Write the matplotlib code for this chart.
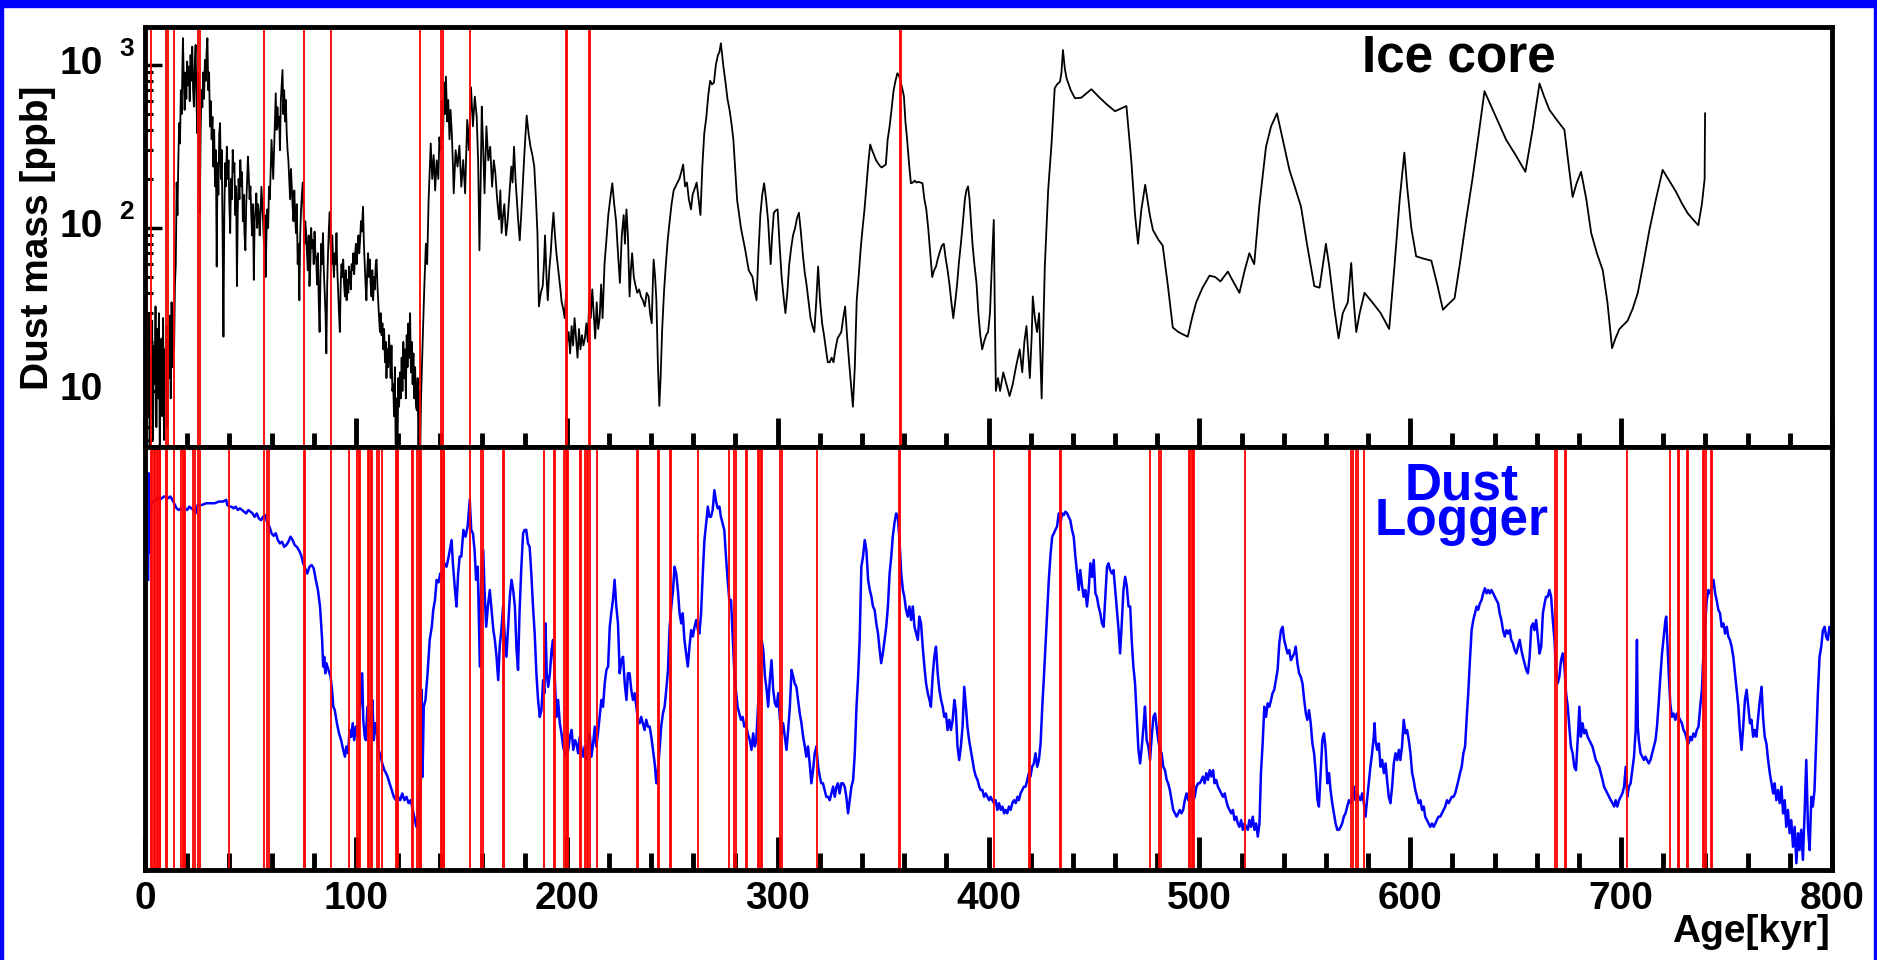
import numpy as np
import matplotlib
matplotlib.use('Agg')
import matplotlib.pyplot as plt
import matplotlib.transforms as mtransforms
from matplotlib.ticker import MultipleLocator, LogLocator, NullFormatter, FixedLocator
from matplotlib.patches import Rectangle

plt.rcParams['font.family'] = ['Liberation Sans', 'DejaVu Sans']

# ice core dust mass (age kyr, ppb)
ice_core_points = [
    (0.2, 9), (0.6, 5), (1.0, 22), (1.4, 7), (1.8, 30), (2.2, 4), (2.6, 16), (3.0, 8),
    (3.4, 27), (3.8, 5), (4.2, 19), (4.6, 11), (5.0, 33), (5.4, 6), (5.8, 24), (6.2, 9),
    (6.6, 30), (7.0, 4), (7.4, 14), (7.8, 21), (8.2, 7), (8.6, 28), (9.0, 5), (9.4, 18),
    (9.8, 10), (10.2, 25), (10.6, 6), (11.0, 20), (11.4, 12), (11.8, 29), (12.2, 9),
    (12.6, 35), (13.0, 14), (13.4, 30), (13.8, 18), (14.2, 45), (14.6, 60), (15.0, 190),
    (15.4, 120), (15.8, 260), (16.2, 440), (16.6, 330), (17.0, 700), (17.4, 500),
    (17.8, 1100), (18.0, 1460), (18.4, 800), (18.8, 530), (19.2, 900), (19.6, 620),
    (20.0, 1050), (20.4, 750), (20.8, 977), (21.2, 600), (21.6, 1150), (22.0, 800),
    (22.4, 1295), (22.8, 700), (23.2, 555), (23.6, 1000), (24.0, 1327), (24.4, 600),
    (24.8, 381), (25.2, 900), (25.6, 700), (26.0, 123), (26.4, 400), (26.8, 703),
    (27.2, 550), (27.6, 900), (28.0, 620), (28.4, 1073), (28.8, 800), (29.2, 1200),
    (29.6, 1460), (30.0, 700), (30.4, 900), (30.8, 419), (31.2, 600), (31.6, 350),
    (32.0, 480), (32.4, 238), (32.8, 400), (33.2, 180), (33.6, 300), (34.0, 58),
    (34.4, 250), (34.8, 160), (35.2, 380), (35.6, 440), (36.0, 200), (36.4, 300),
    (36.8, 90), (37.2, 21.5), (37.6, 120), (38.0, 250), (38.4, 180), (38.8, 315),
    (39.2, 200), (39.6, 260), (40.0, 140), (40.4, 93), (40.8, 200), (41.2, 150),
    (41.6, 301), (42.0, 220), (42.4, 250), (42.8, 120), (43.2, 180), (43.6, 44),
    (44.0, 130), (44.4, 200), (44.8, 150), (45.2, 261), (45.6, 180), (46.0, 220),
    (46.4, 110), (46.8, 160), (47.2, 90), (47.6, 73), (48.0, 140), (48.4, 190),
    (48.8, 274), (49.2, 210), (49.6, 150), (50.0, 180), (50.4, 120), (50.8, 90),
    (51.2, 140), (51.6, 48), (52.0, 110), (52.4, 130), (52.8, 163), (53.2, 100),
    (53.6, 140), (54.0, 120), (54.4, 90), (54.8, 130), (55.2, 179), (55.6, 140),
    (56.0, 110), (56.4, 80), (56.8, 120), (57.2, 50), (57.6, 90), (58.0, 130),
    (58.4, 100), (58.8, 179), (59.2, 150), (59.6, 230), (60.0, 347), (60.4, 260),
    (60.8, 200), (61.2, 300), (61.6, 450), (62.0, 670), (62.4, 400), (62.8, 550),
    (63.2, 420), (63.6, 482), (64.0, 300), (64.4, 600), (64.8, 750), (65.2, 931),
    (65.6, 500), (66.0, 700), (66.4, 450), (66.8, 610), (67.2, 380), (67.6, 300),
    (68.0, 260), (68.4, 200), (68.8, 150), (69.2, 230), (69.6, 180), (70.0, 135),
    (70.4, 110), (70.8, 170), (71.2, 120), (71.6, 93), (72.0, 140), (72.4, 60),
    (72.8, 80), (73.2, 36), (73.6, 90), (74.0, 130), (74.4, 160), (74.8, 190),
    (75.2, 120), (75.6, 80), (76.0, 110), (76.4, 93), (76.8, 70), (77.2, 55),
    (77.6, 90), (78.0, 44), (78.4, 60), (78.8, 100), (79.2, 75), (79.6, 84),
    (80.0, 60), (80.4, 95), (80.8, 70), (81.2, 64), (81.6, 45), (82.0, 70),
    (82.4, 35), (82.8, 23), (83.2, 50), (83.6, 80), (84.0, 60), (84.4, 93),
    (84.8, 55), (85.2, 40), (85.6, 30), (86.0, 17), (86.4, 45), (86.8, 70),
    (87.2, 100), (87.6, 125), (88.0, 80), (88.4, 60), (88.8, 90), (89.2, 64),
    (89.6, 50), (90.0, 70), (90.4, 60), (90.8, 93), (91.2, 55), (91.6, 40),
    (92.0, 30), (92.4, 23), (92.8, 45), (93.2, 60), (93.6, 50), (94.0, 64),
    (94.4, 45), (94.8, 38), (95.2, 55), (95.6, 36), (96.0, 48), (96.4, 40),
    (96.8, 58), (97.2, 50), (97.6, 42), (98.0, 60), (98.4, 55), (98.8, 70),
    (99.2, 52), (99.6, 67), (100.0, 80), (100.4, 60), (100.8, 75), (101.2, 90),
    (101.6, 70), (102.0, 84), (102.4, 110), (102.8, 95), (103.2, 120), (103.4, 135),
    (103.8, 80), (104.2, 60), (104.6, 45), (105.0, 36), (105.4, 55), (105.8, 70),
    (106.2, 50), (106.6, 64), (107.0, 45), (107.4, 38), (107.8, 55), (108.2, 36),
    (108.6, 50), (109.0, 42), (109.4, 60), (109.8, 64), (110.2, 45), (110.6, 35),
    (111.0, 28), (111.4, 23), (111.8, 30), (112.2, 22), (112.6, 26), (113.0, 18),
    (113.4, 24), (113.8, 15), (114.2, 20), (114.5, 12), (114.9, 18), (115.3, 14),
    (115.7, 22), (116.1, 17), (116.5, 12), (116.9, 19), (117.3, 10), (117.7, 11),
    (118.1, 7), (118.5, 14), (118.9, 4), (119.3, 9), (119.7, 3.5), (120.1, 12),
    (120.5, 8), (120.9, 13), (121.3, 9), (121.7, 16), (122.1, 10), (122.5, 20),
    (122.9, 12), (123.3, 18), (123.7, 9), (124.1, 22), (124.5, 14), (124.9, 26),
    (125.3, 16), (125.7, 30), (126.1, 13), (126.5, 20), (126.9, 11), (127.3, 17),
    (127.7, 9), (128.1, 14), (128.5, 8), (128.9, 7.6), (129.3, 12), (129.7, 4),
    (130.1, 10), (130.5, 4), (130.9, 9), (131.3, 14), (131.8, 23), (132.5, 45),
    (133.2, 80), (133.8, 60), (134.5, 150), (135.0, 220), (135.5, 330), (136.2, 200),
    (136.9, 280), (137.6, 170), (138.3, 260), (139.1, 200), (139.6, 360), (140.2, 300),
    (140.7, 600), (141.3, 350), (141.9, 780), (142.3, 500), (142.7, 850), (143.3, 450),
    (143.8, 610), (144.4, 350), (144.9, 530), (145.5, 380), (146.0, 250), (146.4, 163),
    (147.3, 300), (148.2, 238), (149.1, 320), (150.0, 179), (150.9, 261), (151.8, 163),
    (152.8, 460), (153.6, 300), (154.6, 730), (155.5, 420), (156.4, 640), (157.3, 480),
    (158.0, 250), (158.6, 73), (159.2, 200), (159.7, 555), (160.3, 330), (161.0, 163),
    (161.9, 420), (162.8, 260), (163.7, 315), (164.6, 179), (165.4, 260), (166.1, 220),
    (167.0, 150), (167.9, 113), (168.5, 170), (169.1, 93), (169.8, 120), (170.4, 140),
    (171.2, 90), (171.9, 108), (172.8, 160), (173.7, 238), (174.3, 190), (175.0, 315),
    (175.7, 200), (176.4, 145), (177.0, 110), (177.7, 84), (178.4, 120), (179.1, 179),
    (180.0, 300), (181.0, 490), (181.9, 380), (182.8, 315), (183.7, 280), (184.6, 238),
    (185.4, 150), (186.1, 93), (186.8, 33), (187.7, 40), (188.6, 44), (189.2, 60),
    (189.7, 90), (190.4, 50), (191.0, 36), (191.7, 55), (192.4, 70), (193.0, 95),
    (193.7, 124), (194.4, 90), (195.1, 70), (196.0, 55), (197.0, 42), (197.6, 35),
    (198.3, 32), (199.0, 28), (199.7, 40), (200.2, 20), (200.9, 23), (201.6, 17),
    (202.3, 25), (203.0, 19), (203.7, 28), (204.4, 21), (205.1, 16), (205.8, 24),
    (206.5, 18), (207.2, 22), (207.9, 19), (208.6, 21), (209.3, 26), (210.0, 20),
    (210.7, 38), (211.4, 28), (212.1, 42), (212.8, 30), (213.5, 21), (214.2, 35),
    (214.9, 24), (215.6, 28), (216.3, 45), (217.0, 28), (217.9, 60), (218.8, 84),
    (219.7, 120), (220.6, 150), (221.6, 188), (222.5, 140), (223.4, 110), (224.3, 70),
    (225.2, 46), (226.1, 90), (227.0, 120), (227.6, 80), (228.3, 130), (229.0, 90),
    (229.8, 38), (230.4, 55), (231.0, 70), (231.8, 50), (232.5, 45), (233.4, 40),
    (234.3, 42), (235.2, 38), (236.1, 36), (237.0, 33), (237.9, 40), (238.8, 38),
    (239.5, 30), (240.3, 26), (240.8, 45), (241.2, 64), (241.9, 50), (242.5, 36),
    (243.2, 15), (243.9, 8.1), (244.5, 12), (245.2, 23), (246.1, 40), (247.0, 60),
    (247.9, 85), (248.8, 110), (249.7, 140), (250.7, 170), (251.6, 180), (252.5, 190),
    (253.4, 200), (254.3, 220), (255.2, 245), (256.1, 180), (257.0, 190), (257.9, 150),
    (258.9, 130), (259.7, 160), (260.7, 175), (261.6, 190), (262.5, 150), (263.4, 120),
    (264.3, 238), (265.2, 380), (266.2, 480), (267.1, 650), (268.0, 800), (268.9, 760),
    (269.8, 780), (270.7, 1000), (271.7, 1150), (272.4, 1200), (273.1, 1360),
    (274.2, 1000), (275.3, 780), (276.2, 620), (277.2, 530), (278.1, 440), (279.0, 350),
    (279.9, 230), (280.8, 148), (282.6, 100), (284.5, 75), (286.3, 55), (288.1, 50),
    (289.0, 42), (290.0, 36), (290.9, 70), (291.8, 120), (292.7, 160), (293.6, 188),
    (294.5, 150), (295.5, 110), (296.1, 80), (296.7, 60), (297.4, 90), (298.2, 124),
    (299.1, 128), (300.0, 130), (300.9, 80), (301.9, 50), (302.8, 38), (303.7, 30),
    (304.6, 40), (305.5, 60), (306.4, 75), (307.3, 90), (308.3, 100), (309.2, 115),
    (310.1, 124), (311.0, 95), (311.9, 70), (312.8, 54), (313.7, 45), (314.7, 35),
    (315.6, 28), (316.5, 25), (317.4, 23), (318.3, 35), (319.2, 58), (320.1, 36),
    (321.1, 26), (322.0, 22), (322.9, 18), (323.8, 15), (324.7, 15), (325.6, 16),
    (326.5, 15), (327.4, 18), (328.4, 21), (329.3, 22), (330.2, 23), (331.1, 28),
    (332.0, 33), (333.0, 21), (333.9, 15), (334.8, 11), (335.7, 8), (336.6, 14),
    (337.5, 36), (338.4, 50), (339.4, 75), (340.3, 100), (341.2, 130), (342.1, 180),
    (343.0, 250), (343.9, 325), (344.8, 300), (345.7, 280), (346.7, 260), (347.6, 250),
    (348.5, 240), (349.4, 235), (350.3, 240), (351.3, 245), (352.2, 350), (353.1, 420),
    (354.0, 530), (355.0, 700), (355.9, 800), (356.8, 890), (357.7, 850), (358.6, 760),
    (359.3, 700), (359.9, 640), (360.6, 450), (361.4, 350), (362.3, 250), (363.2, 188),
    (364.1, 190), (365.0, 195), (365.9, 190), (366.8, 192), (367.8, 190), (368.7, 188),
    (369.6, 150), (370.5, 130), (371.4, 100), (372.4, 70), (373.3, 50), (374.2, 55),
    (375.1, 58), (376.0, 65), (377.0, 72), (377.9, 78), (378.8, 80), (379.7, 65),
    (380.6, 55), (381.5, 45), (382.4, 35), (383.3, 28), (384.2, 35), (385.1, 45),
    (386.0, 62), (386.9, 80), (387.9, 110), (388.8, 150), (389.5, 170), (390.3, 180),
    (391.0, 150), (391.7, 110), (392.4, 80), (393.3, 60), (394.3, 46), (395.2, 30),
    (396.1, 22), (397.0, 18), (397.9, 20), (398.9, 22), (399.8, 23), (400.7, 30),
    (401.6, 60), (402.5, 112), (403.0, 30), (403.5, 10), (404.5, 12), (405.5, 10),
    (407.0, 13), (408.5, 11), (410.0, 9.3), (411.5, 11), (413.0, 14), (414.8, 18),
    (416.0, 13), (417.0, 20), (418.0, 25), (419.6, 12), (420.5, 22), (421.0, 38),
    (422.0, 28), (423.0, 23), (424.0, 30), (425.2, 9), (426.7, 58), (428.3, 171),
    (429.9, 330), (431.4, 720), (432.5, 760), (433.9, 790), (434.6, 900), (435.3, 1235),
    (436.2, 950), (437.0, 830), (439.0, 700), (441.0, 625), (444.0, 630), (448.8, 710),
    (452.7, 630), (456.3, 570), (460.0, 520), (465.4, 560), (467.7, 260), (469.5, 120),
    (470.9, 80), (472.5, 130), (474.3, 184), (476.5, 120), (478.0, 97), (480.5, 85),
    (482.6, 78), (485.0, 45), (487.4, 24.5), (490.0, 23), (494.5, 21.5), (496.5, 28),
    (498.5, 35), (501.5, 43), (504.8, 51), (507.5, 50), (510.0, 47), (513.5, 54),
    (516.0, 47), (519.0, 40), (521.5, 55), (523.7, 70), (525.0, 64), (526.0, 60),
    (528.5, 140), (531.6, 315), (534.0, 420), (536.8, 505), (539.5, 350), (542.7, 227),
    (545.5, 175), (548.2, 135), (551.0, 80), (554.5, 44), (557.0, 43), (560.0, 80),
    (561.6, 58), (564.0, 32), (566.0, 21), (568.0, 30), (570.4, 35), (572.0, 61),
    (573.0, 38), (574.4, 23), (576.0, 30), (578.3, 40), (582.0, 35), (586.0, 30),
    (590.0, 24), (592.5, 58), (595.0, 150), (597.2, 290), (598.5, 180), (600.5, 100),
    (602.8, 67), (606.0, 65), (610.0, 63), (612.8, 45), (615.5, 31.5), (618.0, 34),
    (621.0, 37), (623.5, 60), (626.5, 112), (629.5, 200), (632.5, 380), (635.2, 690),
    (640.0, 500), (645.5, 347), (650.0, 280), (654.6, 221), (658.0, 400), (661.3, 770),
    (663.5, 640), (666.0, 530), (669.5, 460), (673.1, 400), (675.0, 250), (677.0, 155),
    (679.0, 190), (681.0, 221), (683.5, 150), (685.8, 93), (688.5, 70), (691.3, 55),
    (693.5, 35), (695.7, 18.3), (697.3, 21), (699.2, 24), (703.1, 27), (705.5, 32),
    (707.9, 40), (710.5, 60), (713.4, 97), (716.5, 150), (719.7, 227), (722.8, 195),
    (726.0, 167), (729.0, 140), (731.6, 123), (734.0, 113), (736.6, 104), (738.3, 140),
    (739.0, 170), (739.6, 200), (739.8, 505),
]

# dust logger signal (age kyr, arbitrary units 0-100)
logger_points = [
    (1.5, 68.6), (1.7, 93.8), (1.9, 75.0), (2.1, 84.0), (2.5, 85.5), (3, 86.7), (4, 87.1),
    (5, 87.5), (6, 87.9), (7, 87.5), (8, 87.9), (9, 88.3), (10, 88.2), (11, 87.9),
    (12, 88.3), (13, 87.5), (14, 86.5), (15, 85.5), (16, 85.1), (17, 85.5), (18, 85.1),
    (19, 85.5), (20, 85.1), (21, 85.9), (22, 85.5), (23, 85.1), (24, 84.3), (24.5, 85.5),
    (25, 86.3), (27, 86.3), (29, 86.7), (31, 86.7), (33, 86.7), (35, 87.1), (37, 87.1),
    (38.5, 87.5), (39, 86.3), (40, 85.9), (41, 85.9), (42, 85.5), (43, 85.9), (44, 85.1),
    (45, 85.5), (46, 85.1), (47, 84.7), (48, 84.3), (49, 85.1), (50, 84.7), (51, 84.3),
    (52, 83.5), (53, 84.3), (54, 83.1), (55, 82.7), (56, 83.5), (57, 83.9), (58, 82.0),
    (59, 81.2), (60, 79.6), (61, 79.0), (62, 79.6), (63, 78.0), (64, 77.2), (65, 77.6),
    (66, 76.4), (67, 76.8), (68, 77.6), (69, 78.8), (70, 78.0), (71, 76.8), (72, 76.4),
    (73, 75.6), (74, 74.5), (75, 72.5), (76, 71.3), (77, 70.1), (78, 71.7), (79, 72.1),
    (80, 71.3), (81, 68.6), (82, 66.2), (83, 62.3), (84, 54.4), (84.5, 48.1), (85, 50.4),
    (85.5, 46.5), (86, 48.9), (87, 47.3), (88, 45.7), (88.7, 42.6), (89.3, 38.6),
    (90, 37.8), (91, 34.7), (92, 32.3), (93, 30.7), (94, 28.4), (94.8, 26.8), (95.5, 29.2),
    (96.3, 27.6), (97, 33.1), (97.8, 31.5), (98.5, 34.7), (99.2, 30.7), (100, 33.9),
    (101, 31.5), (102, 38.6), (103, 46.5), (103.5, 35.5), (104.2, 31.5), (104.7, 30.7),
    (105.5, 38.6), (106.3, 33.9), (107.2, 36.2), (107.8, 40.2), (108.5, 30.7),
    (109.2, 34.7), (110, 32.3), (110.8, 28.4), (111.8, 26.8), (112.5, 25.2), (113.5, 23.6),
    (114.3, 22.9), (115, 22.1), (116, 20.5), (117, 18.9), (118, 17.3), (119, 16.5),
    (120, 17.3), (121, 16.5), (122, 18.1), (123, 16.5), (124, 17.3), (125, 15.8),
    (126, 16.5), (127, 14.2), (128, 11.8), (128.7, 10.2), (129.3, 12.6), (130, 18.1),
    (130.7, 16.5), (131.2, 42.6), (131.6, 22.0), (132.2, 38.6), (133, 40.2), (134, 46.5),
    (135, 54.4), (136, 57.5), (136.7, 61.5), (137.5, 63.8), (138.3, 68.6), (139.2, 68.0),
    (140, 70.1), (141, 69.3), (142, 72.5), (143, 71.7), (144, 74.1), (145.4, 78.0),
    (146, 72.5), (147, 66.2), (147.7, 62.3), (148.5, 70.1), (149.2, 74.1), (150, 74.1),
    (151, 80.4), (152, 78.8), (153, 81.2), (154, 87.5), (154.7, 80.4), (155.5, 79.6),
    (156.3, 75.6), (157, 68.6), (157.8, 71.7), (158.8, 48.1), (159.5, 70.1), (160.4, 75.6),
    (161, 66.2), (161.8, 57.5), (162.6, 62.3), (163.5, 66.2), (164.5, 60.7), (165.2, 56.7),
    (165.9, 54.4), (166.7, 50.4), (167.5, 44.9), (168.2, 52.8), (169, 56.7), (169.8, 62.3),
    (170.6, 55.2), (171.4, 50.4), (172.2, 57.5), (173, 64.6), (173.8, 68.6), (174.6, 66.2),
    (175.4, 62.3), (176.2, 52.0), (176.9, 47.3), (177.6, 60.7), (178.4, 70.9), (179.3, 79.6),
    (180, 80.4), (180.8, 80.4), (181.6, 77.2), (182.4, 76.4), (183.2, 70.1), (184, 62.3),
    (184.8, 55.9), (185.6, 46.5), (186.4, 40.2), (187.2, 36.2), (188, 37.8), (188.8, 44.9),
    (189.4, 41.8), (189.9, 58.3), (190.5, 46.5), (191.2, 43.3), (192, 46.5), (192.8, 52.0),
    (193.5, 54.4), (194.3, 45.7), (195.1, 36.2), (195.9, 40.2), (196.7, 34.7), (197.5, 32.3),
    (198.3, 29.2), (199.1, 27.6), (199.9, 26.8), (200.7, 28.4), (201.5, 31.5), (202.3, 33.1),
    (203.1, 28.4), (203.9, 30.7), (204.6, 29.9), (205.4, 27.6), (206.2, 31.5), (207, 28.4),
    (207.8, 26.8), (208.5, 29.2), (209.3, 26.0), (210.1, 30.7), (210.9, 32.3), (211.7, 26.8),
    (212.5, 29.9), (213.3, 33.9), (214, 29.2), (214.8, 32.3), (215.6, 36.2), (216.4, 40.2),
    (217.2, 38.6), (218, 44.1), (218.8, 47.3), (219.6, 48.1), (220.4, 57.5), (221.1, 60.7),
    (221.9, 63.8), (222.7, 68.6), (223.5, 62.3), (224.3, 58.3), (225.1, 46.5), (225.9, 49.6),
    (226.7, 50.4), (227.5, 44.1), (228.3, 40.2), (229, 46.5), (229.8, 46.5), (230.6, 42.6),
    (231.4, 40.2), (232.2, 41.8), (233, 38.6), (233.8, 35.5), (234.6, 34.7), (235.3, 36.2),
    (236.1, 34.7), (236.9, 33.1), (237.7, 35.5), (238.5, 33.9), (239.3, 33.9), (240.1, 31.5),
    (240.9, 28.4), (241.7, 25.2), (242.5, 20.5), (243.2, 23.6), (244, 28.4), (244.8, 33.9),
    (245.6, 37.0), (246.4, 38.6), (247.2, 42.6), (248, 47.3), (248.8, 57.5), (249.6, 62.3),
    (250.4, 66.2), (251.1, 71.7), (251.9, 70.1), (252.7, 66.2), (253.5, 60.7), (254.3, 58.3),
    (255, 60.7), (255.8, 54.4), (256.6, 51.2), (257.4, 48.1), (258.2, 52.8), (259, 56.7),
    (259.8, 55.2), (260.6, 57.5), (261.4, 59.1), (262.2, 56.7), (262.9, 55.9), (263.7, 60.7),
    (264.5, 70.1), (265.3, 78.0), (266.1, 82.0), (266.9, 85.9), (267.6, 83.5), (268.4, 83.5),
    (269.2, 85.1), (270, 89.8), (270.8, 87.1), (271.6, 85.5), (272.4, 85.9), (273.1, 83.5),
    (273.9, 82.0), (274.7, 80.4), (275.5, 74.1), (276.3, 68.6), (277.1, 63.8), (277.9, 63.8),
    (278.7, 55.2), (279.5, 46.5), (280.2, 42.6), (281, 38.6), (281.8, 37.0), (282.6, 35.5),
    (283.4, 36.2), (284.2, 33.9), (285, 34.7), (285.8, 32.3), (286.8, 30.7), (287.6, 28.4),
    (288.4, 32.3), (289.2, 29.2), (289.9, 30.7), (290.7, 38.6), (291.6, 44.9), (292.4, 54.4),
    (293.2, 52.0), (294, 45.7), (294.8, 42.6), (295.5, 38.6), (296.3, 44.9), (297.1, 49.6),
    (297.9, 42.6), (298.7, 39.4), (299.5, 38.6), (300.3, 41.8), (301, 36.2), (301.8, 32.3),
    (302.6, 34.7), (303.4, 31.5), (304.2, 28.4), (305, 33.1), (305.8, 38.6), (306.6, 47.3),
    (307.4, 45.7), (308.1, 44.1), (308.9, 43.3), (309.7, 40.2), (310.5, 37.0), (311.3, 34.7),
    (312.1, 31.5), (312.9, 29.2), (313.6, 26.8), (314.4, 29.2), (315.2, 25.2), (316, 20.5),
    (316.8, 23.6), (317.6, 27.6), (318.4, 29.2), (319.2, 24.4), (320, 22.1), (320.7, 20.5),
    (321.5, 20.5), (322.3, 18.9), (323.1, 17.3), (323.9, 17.3), (324.7, 16.5), (325.5, 18.1),
    (326.3, 19.7), (327.1, 17.3), (327.9, 19.7), (328.6, 20.5), (329.4, 18.1), (330.2, 20.5),
    (331, 20.5), (331.8, 19.7), (332.6, 17.3), (333.4, 13.4), (334.2, 16.5), (335, 19.7),
    (335.8, 21.3), (336.6, 27.6), (337.4, 38.6), (338.1, 44.9), (338.9, 54.4), (339.7, 71.7),
    (340.5, 74.1), (341.3, 78.0), (342.1, 75.6), (342.9, 68.6), (343.7, 66.2), (344.5, 64.6),
    (345.2, 62.3), (346, 61.5), (346.8, 58.3), (347.6, 55.9), (348.4, 52.0), (349.1, 48.9),
    (349.9, 51.2), (350.7, 54.4), (351.5, 57.5), (352.3, 62.3), (353.1, 70.1), (353.9, 74.1),
    (354.6, 78.8), (355.4, 82.0), (356.2, 84.3), (357, 83.5), (357.8, 78.0), (358.6, 70.1),
    (359.4, 66.2), (360.1, 64.6), (360.9, 61.5), (361.7, 59.9), (362.5, 62.3), (363.3, 59.1),
    (364.1, 62.3), (364.9, 57.5), (365.7, 55.9), (366.5, 54.4), (367.2, 59.9), (368, 58.3),
    (368.8, 52.8), (369.6, 48.1), (370.4, 44.1), (371.2, 41.8), (372, 40.2), (372.7, 38.6),
    (373.5, 45.7), (374.3, 50.4), (375.1, 52.8), (375.9, 46.5), (376.7, 42.6), (377.5, 40.2),
    (378.3, 38.6), (379, 36.2), (379.8, 37.0), (380.6, 33.1), (381.4, 35.5), (382.2, 33.1),
    (383, 35.5), (383.8, 40.2), (384.5, 37.8), (385.3, 29.2), (386.1, 26.0), (386.9, 29.2),
    (387.7, 33.9), (388.5, 43.3), (389.3, 38.6), (390, 33.9), (390.8, 30.7), (391.6, 28.4),
    (392.4, 26.0), (393.2, 23.6), (394, 22.1), (394.8, 21.3), (395.6, 19.7), (396.3, 18.9),
    (397.1, 18.9), (397.9, 17.3), (398.7, 18.1), (399.5, 17.3), (400.3, 16.5), (401, 17.3),
    (401.8, 16.5), (402.6, 15.8), (403.4, 16.5), (404.2, 14.2), (405, 15.8), (405.8, 14.2),
    (406.6, 15.0), (407.4, 13.4), (408.1, 14.2), (408.9, 13.4), (409.7, 15.0), (410.5, 14.2),
    (411.3, 15.8), (412.1, 16.5), (412.9, 15.8), (413.7, 17.3), (414.4, 16.5), (415.2, 18.1),
    (416, 18.9), (416.8, 19.7), (417.6, 19.7), (418.4, 21.3), (419.1, 22.9), (419.9, 22.1),
    (420.7, 24.4), (421.5, 25.2), (422.3, 27.6), (423.1, 24.4), (423.9, 26.0), (424.7, 29.9),
    (425.5, 38.6), (426.2, 44.9), (427, 52.8), (427.8, 60.7), (428.6, 68.6), (429.4, 74.5),
    (430.2, 78.8), (431, 79.6), (431.7, 80.4), (432.5, 81.2), (433.3, 84.3), (434.1, 82.0),
    (434.9, 84.3), (435.7, 83.9), (436.5, 84.7), (437.3, 84.3), (438, 83.5), (438.8, 82.7),
    (439.6, 80.4), (440.4, 78.8), (441.2, 74.1), (442, 70.1), (442.8, 66.2), (443.5, 70.9),
    (444.4, 67.0), (445.1, 64.6), (445.9, 66.2), (446.7, 62.3), (447.5, 66.2), (448.3, 72.5),
    (449.1, 69.3), (449.9, 73.3), (450.7, 65.4), (451.4, 64.6), (452.2, 62.3), (453, 60.7),
    (453.8, 58.3), (454.6, 57.5), (455.4, 64.6), (456.2, 71.7), (456.9, 72.5), (457.7, 70.9),
    (458.5, 70.1), (459.3, 70.9), (460.1, 66.2), (460.9, 61.5), (461.7, 56.7), (462.4, 51.2),
    (463.2, 58.3), (464, 66.2), (464.8, 69.3), (465.6, 67.0), (466.4, 62.3), (467.2, 62.3),
    (467.9, 54.4), (468.7, 48.1), (469.5, 44.1), (470.3, 36.2), (471.1, 28.4), (471.9, 25.2),
    (472.7, 29.2), (473.5, 33.9), (474.2, 38.6), (475, 30.7), (475.8, 29.2), (476.6, 26.0),
    (477.4, 31.5), (478.2, 36.2), (479, 37.0), (479.7, 33.9), (480.5, 30.7), (481.3, 28.4),
    (482.1, 27.6), (482.9, 24.4), (483.7, 23.6), (484.5, 21.3), (485.2, 20.5), (486, 18.9),
    (486.8, 16.5), (487.6, 14.2), (488.4, 13.4), (489.2, 12.6), (490, 13.4), (490.7, 14.2),
    (491.5, 13.4), (492.3, 14.2), (493.1, 16.5), (493.9, 18.1), (494.7, 16.5), (495.5, 19.7),
    (496.2, 17.3), (497, 16.5), (497.8, 17.3), (498.6, 19.7), (499.4, 20.5), (500.2, 20.5),
    (501, 21.3), (501.7, 22.1), (502.5, 20.5), (503.3, 22.9), (504.1, 21.3), (504.9, 23.6),
    (505.7, 22.1), (506.5, 23.6), (507.2, 20.5), (508, 21.3), (508.8, 19.7), (509.6, 18.9),
    (510.4, 18.1), (511.2, 17.3), (512, 18.1), (512.7, 16.5), (513.5, 15.0), (514.3, 14.2),
    (515.1, 13.4), (515.9, 14.2), (516.7, 11.8), (517.5, 12.6), (518.2, 11.0), (519, 10.2),
    (519.8, 11.8), (520.6, 9.5), (521.4, 11.0), (522.2, 10.2), (523, 9.5), (523.7, 11.8),
    (524.5, 10.2), (525.3, 12.6), (526.1, 9.5), (526.9, 11.0), (527.7, 7.9), (528.5, 11.0),
    (529.2, 22.9), (530, 29.9), (530.8, 38.6), (531.6, 36.2), (532.4, 39.4), (533.2, 38.6),
    (534, 40.2), (534.7, 41.8), (535.5, 42.6), (536.3, 44.9), (537.1, 47.3), (537.9, 53.6),
    (538.7, 56.7), (539.5, 57.5), (540.2, 54.4), (541, 52.8), (541.8, 51.2), (542.6, 52.0),
    (543.4, 49.6), (544.2, 50.4), (545, 51.2), (545.7, 52.8), (546.5, 48.9), (547.3, 46.5),
    (548.1, 45.7), (548.9, 44.1), (549.7, 40.2), (550.5, 37.0), (551.2, 35.5), (552, 37.8),
    (552.8, 34.7), (553.6, 29.9), (554.4, 27.6), (555.2, 22.9), (556, 16.5), (556.7, 15.0),
    (557.5, 22.9), (558.3, 30.7), (559.1, 32.3), (559.9, 28.4), (560.7, 20.5), (561.5, 22.9),
    (562.2, 18.9), (563, 15.8), (563.8, 13.4), (564.6, 11.0), (565.4, 9.5), (566.2, 9.5),
    (567, 10.2), (567.7, 11.0), (568.5, 12.6), (569.3, 13.4), (570.1, 15.0), (570.9, 16.5),
    (571.7, 15.8), (572.5, 17.3), (573.3, 19.7), (574, 16.5), (574.8, 18.1), (575.6, 17.3),
    (576.4, 16.5), (577.2, 18.1), (578, 15.8), (578.8, 12.6), (579.5, 16.5), (580.3, 20.5),
    (581.1, 24.4), (581.9, 27.6), (582.7, 31.5), (583.1, 34.7), (583.5, 30.7), (584.3, 28.4),
    (585.1, 29.9), (585.9, 24.4), (586.7, 26.0), (587.5, 22.9), (588.3, 25.2), (589, 21.3),
    (589.8, 17.3), (590.6, 15.8), (591.4, 19.7), (592.2, 25.2), (593, 27.6), (593.8, 26.0),
    (594.6, 28.4), (595.3, 26.0), (596.1, 29.2), (596.9, 35.5), (597.7, 32.3), (598.5, 33.1),
    (599.3, 30.7), (600.1, 27.6), (600.9, 22.9), (601.6, 21.3), (602.4, 18.9), (603.2, 17.3),
    (604, 15.8), (604.8, 16.5), (605.6, 14.2), (606.4, 15.0), (607.1, 12.6), (607.9, 11.8),
    (608.7, 11.0), (609.5, 10.2), (610.3, 11.0), (611.1, 10.2), (611.9, 11.0), (612.6, 11.8),
    (613.4, 12.6), (614.2, 12.6), (615, 13.4), (615.8, 14.2), (616.6, 15.0), (617.4, 16.5),
    (618.2, 15.8), (618.9, 16.5), (619.7, 17.3), (620.5, 17.3), (621.3, 18.1), (622.1, 19.7),
    (622.9, 21.3), (623.6, 22.9), (624.4, 24.4), (625.2, 27.6), (626, 29.2), (626.8, 36.2),
    (627.5, 41.8), (628.3, 49.6), (629.1, 56.7), (629.9, 59.1), (630.7, 60.7), (631.5, 62.3),
    (632.2, 61.5), (633, 63.0), (633.8, 63.8), (634.6, 65.4), (635.4, 66.6), (636.2, 65.4),
    (637, 66.2), (637.7, 65.4), (638.5, 66.2), (639.3, 65.4), (640.1, 64.6), (640.9, 63.8),
    (641.7, 63.0), (642.4, 60.7), (643.2, 59.1), (644, 56.7), (644.8, 55.2), (645.6, 56.7),
    (646.4, 55.9), (647.2, 56.7), (647.9, 54.4), (648.7, 53.6), (649.5, 52.0), (650.3, 51.2),
    (651.1, 52.8), (651.9, 54.4), (652.7, 52.0), (653.4, 50.4), (654.2, 48.9), (655, 47.3),
    (655.8, 46.5), (656.6, 50.4), (657.4, 57.5), (658.2, 58.3), (658.9, 56.7), (659.7, 59.1),
    (660.5, 55.2), (661.3, 51.2), (662.1, 52.8), (662.9, 60.7), (663.7, 63.0), (664.4, 64.6),
    (665.2, 64.6), (666, 66.2), (666.8, 64.6), (667.6, 59.1), (668.4, 54.4), (669.1, 47.3),
    (669.9, 44.1), (670.7, 45.7), (671.5, 49.6), (672.3, 51.2), (673.1, 48.1), (673.9, 41.8),
    (674.7, 38.6), (675.4, 33.9), (676.2, 29.2), (677, 27.6), (677.8, 24.4), (678.6, 23.6),
    (679.4, 30.7), (680.2, 38.6), (680.9, 31.5), (681.7, 34.7), (682.5, 32.3), (683.3, 33.1),
    (684.1, 31.5), (684.9, 30.7), (685.7, 29.9), (686.4, 29.2), (687.2, 27.6), (688, 26.0),
    (688.8, 25.2), (689.6, 24.4), (690.4, 22.9), (691.2, 21.3), (691.9, 19.7), (692.7, 18.9),
    (693.5, 18.1), (694.3, 17.3), (695.1, 16.5), (695.9, 15.8), (696.7, 15.0), (697.4, 16.5),
    (698.2, 15.0), (699, 16.5), (699.8, 17.3), (700.6, 18.1), (701.4, 19.7), (702.2, 24.4),
    (702.9, 17.3), (703.7, 19.7), (704.5, 20.5), (705.3, 23.6), (706.1, 26.8), (706.9, 33.1),
    (707.5, 54.4), (707.9, 33.9), (708.4, 30.7), (709.2, 27.6), (710, 26.8), (710.8, 26.0),
    (711.5, 26.8), (712.3, 26.0), (713.1, 25.2), (713.9, 26.0), (714.7, 27.6), (715.5, 29.2),
    (716.3, 30.7), (717, 33.9), (717.8, 39.4), (718.6, 45.7), (719.4, 51.2), (720.2, 55.2),
    (721, 59.1), (721.4, 59.9), (721.8, 55.2), (722.5, 47.3), (723.3, 39.4), (724.1, 36.2),
    (724.9, 37.0), (725.7, 35.5), (726.5, 37.0), (727.3, 36.2), (728, 35.5), (728.8, 34.7),
    (729.6, 33.1), (730.4, 32.3), (731.2, 30.7), (732, 29.9), (732.8, 31.5), (733.5, 30.7),
    (734.3, 32.3), (735.1, 31.5), (735.9, 33.1), (736.7, 33.9), (737.5, 38.6), (738.3, 42.6),
    (739.1, 52.0), (739.8, 57.5), (740.6, 63.8), (741.4, 66.2), (742.2, 65.4), (743, 66.6),
    (743.8, 68.6), (744.6, 65.4), (745.3, 63.8), (746.1, 61.5), (746.9, 60.7), (747.7, 57.5),
    (748.5, 58.3), (749.3, 55.9), (750.1, 57.5), (750.8, 55.2), (751.6, 54.4), (752.4, 52.8),
    (753.2, 50.4), (754, 46.5), (754.8, 42.6), (755.6, 38.6), (756.3, 33.1), (757.1, 28.4),
    (757.9, 33.9), (758.7, 40.2), (759.5, 42.6), (760.3, 38.6), (761.1, 34.7), (761.8, 35.5),
    (762.6, 31.5), (763.4, 33.1), (764.2, 31.5), (765, 36.2), (765.8, 40.2), (766.6, 43.3),
    (767.3, 36.2), (768.1, 31.5), (768.9, 29.9), (769.7, 26.0), (770.5, 22.9), (771.3, 20.5),
    (772.1, 18.1), (772.8, 20.5), (773.6, 16.5), (774.4, 18.9), (775.2, 15.8), (776, 19.7),
    (776.8, 13.4), (777.6, 16.5), (778.3, 10.2), (779.1, 14.2), (779.9, 8.7), (780.7, 11.8),
    (781.5, 5.5), (782.3, 10.2), (783.1, 1.6), (783.9, 8.7), (784.6, 4.7), (785.4, 9.5),
    (786.2, 2.4), (787, 13.4), (787.8, 26.0), (788.6, 10.2), (789.4, 4.7), (790.2, 17.3),
    (790.9, 15.0), (791.7, 18.9), (792.5, 30.7), (793.3, 41.8), (794.1, 50.4), (794.9, 52.8),
    (795.7, 56.7), (796.5, 57.5), (797.2, 55.2), (798, 54.4), (798.8, 57.5), (799.6, 56.7),
    (800, 30.7),
]

# marked events (age kyr)
ice_core_events = [2.7, 9.8, 10.8, 13.7, 25.3, 26.1, 56.4, 75.4, 88.2, 130.5, 140.3,
                   141.3, 154.2, 199.5, 199.9, 210.6, 211.2, 357.9, 358.4]
logger_events = [2.7, 3.4, 4.1, 4.8, 5.5, 6.2, 6.9, 7.3, 9.8, 10.4, 13.8, 17.2, 17.9,
                 18.6, 19.2, 22.9, 23.6, 25.3, 26.0, 39.8, 56.4, 58.0, 58.6, 75.2, 75.7,
                 88.2, 96.7, 100.6, 101.3, 102.0, 105.7, 106.4, 107.1, 107.6, 110.2,
                 110.8, 112.2, 118.8, 119.5, 120.2, 126.6, 127.2, 129.2, 129.9, 130.6,
                 131.0, 140.2, 140.9, 141.6, 142.0, 154.1, 159.5, 160.1, 169.9, 170.4,
                 189.2, 193.9, 194.5, 198.9, 199.6, 200.3, 200.8, 206.2, 206.8, 208.8,
                 209.5, 210.2, 210.9, 214.5, 233.1, 233.6, 243.4, 243.9, 248.8, 249.4,
                 262.1, 277.1, 279.3, 280.2, 284.8, 285.4, 290.7, 291.4, 292.1, 292.6,
                 301.3, 302.1, 318.5, 357.4, 358.2, 402.6, 419.0, 419.6, 433.7, 434.4,
                 476.5, 481.0, 481.8, 494.9, 495.6, 496.3, 497.0, 497.6, 521.6, 571.7,
                 572.9, 574.1, 575.3, 578.0, 668.5, 669.6, 673.2, 673.9, 702.6, 723.1,
                 726.8, 727.3, 731.1, 731.6, 738.7, 739.4, 740.1, 742.6, 743.3]

ice_age, ice_dust = map(np.array, zip(*ice_core_points))
log_age, log_level = map(np.array, zip(*logger_points))

W, H = 1877, 960
fig = plt.figure(figsize=(W / 100, H / 100), dpi=100)
fig.patch.set_facecolor('white')


def fx(px):
    return px / W


def fy(py):
    return 1 - py / H


x0, x1 = 145, 1832
ax_top = fig.add_axes([fx(x0), fy(447), fx(x1) - fx(x0), fy(27) - fy(447)])
ax_bot = fig.add_axes([fx(x0), fy(870), fx(x1) - fx(x0), fy(447) - fy(870)])

for ax in (ax_top, ax_bot):
    ax.set_xlim(0, 800)
    for sp in ax.spines.values():
        sp.set_linewidth(3.5)
        sp.set_zorder(5)
    ax.xaxis.set_major_locator(MultipleLocator(100))
    ax.xaxis.set_minor_locator(MultipleLocator(20))

# upper panel: ice core dust, log scale
ax_top.set_yscale('log')
ax_top.set_ylim(4.53, 1710)
ax_top.plot(ice_age, ice_dust, color='black', lw=1.3, zorder=2)
ax_top.vlines(ice_core_events, 0, 1, transform=ax_top.get_xaxis_transform(),
              colors='#ff0000', lw=1.3, zorder=3)
ax_top.tick_params(axis='x', which='major', direction='in', length=21, width=3.5,
                   bottom=True, top=False, labelbottom=False)
ax_top.tick_params(axis='x', which='minor', direction='in', length=10, width=3.5,
                   bottom=True, top=False)
ax_top.yaxis.set_major_locator(FixedLocator([10, 100, 1000]))
ax_top.yaxis.set_minor_locator(LogLocator(base=10, subs=np.arange(2, 10)))
ax_top.yaxis.set_minor_formatter(NullFormatter())
ax_top.tick_params(axis='y', which='major', direction='in', length=12, width=2.5,
                   left=True, right=False, labelleft=False)
ax_top.tick_params(axis='y', which='minor', direction='in', length=6, width=2.2,
                   left=True, right=False)

lab_tr = mtransforms.blended_transform_factory(fig.transFigure, ax_top.transData)
for val, sup in [(10, ''), (100, '2'), (1000, '3')]:
    fig.text(fx(103), val * 1.01, '10', transform=lab_tr, ha='right', va='center',
             fontsize=28, fontweight='bold')
    if sup:
        fig.text(fx(119), val * 1.26, sup, transform=lab_tr, ha='left', va='center',
                 fontsize=19, fontweight='bold')

fig.text(fx(38), fy(238), 'Dust mass [ppb]', rotation=90, ha='center', va='center',
         fontsize=28, fontweight='bold')
fig.text(fx(1362), fy(72), 'Ice core', ha='left', va='baseline', fontsize=37,
         fontweight='bold')

# lower panel: dust logger
ax_bot.set_ylim(0, 100)
ax_bot.plot(log_age, log_level, color='#0000ff', lw=1.8, zorder=2)
ax_bot.vlines(logger_events, 0, 1, transform=ax_bot.get_xaxis_transform(),
              colors='#ff0000', lw=1.3, zorder=3)
ax_bot.set_yticks([])
ax_bot.tick_params(axis='x', which='major', direction='in', length=24, width=3.5,
                   bottom=True, top=False, labelsize=28, pad=8)
ax_bot.tick_params(axis='x', which='minor', direction='in', length=12, width=3.5,
                   bottom=True, top=False)
for lab in ax_bot.get_xticklabels():
    lab.set_fontweight('bold')

fig.text(fx(1462), fy(535), 'Dust\nLogger', ha='center', va='baseline',
         multialignment='center', linespacing=0.64, fontsize=37,
         fontweight='bold', color='#0000ff')
fig.text(fx(1830), fy(942), 'Age[kyr]', ha='right', va='baseline', fontsize=28,
         fontweight='bold')

# blue frame round the canvas
for rect in [(0, fy(7), 1, 7 / H), (0, 0, 3 / W, 1), (1 - 3 / W, 0, 3 / W, 1)]:
    fig.patches.append(Rectangle(rect[:2], rect[2], rect[3], transform=fig.transFigure,
                                 color='#0000ff', zorder=10))

fig.savefig('out.png', dpi=100)
